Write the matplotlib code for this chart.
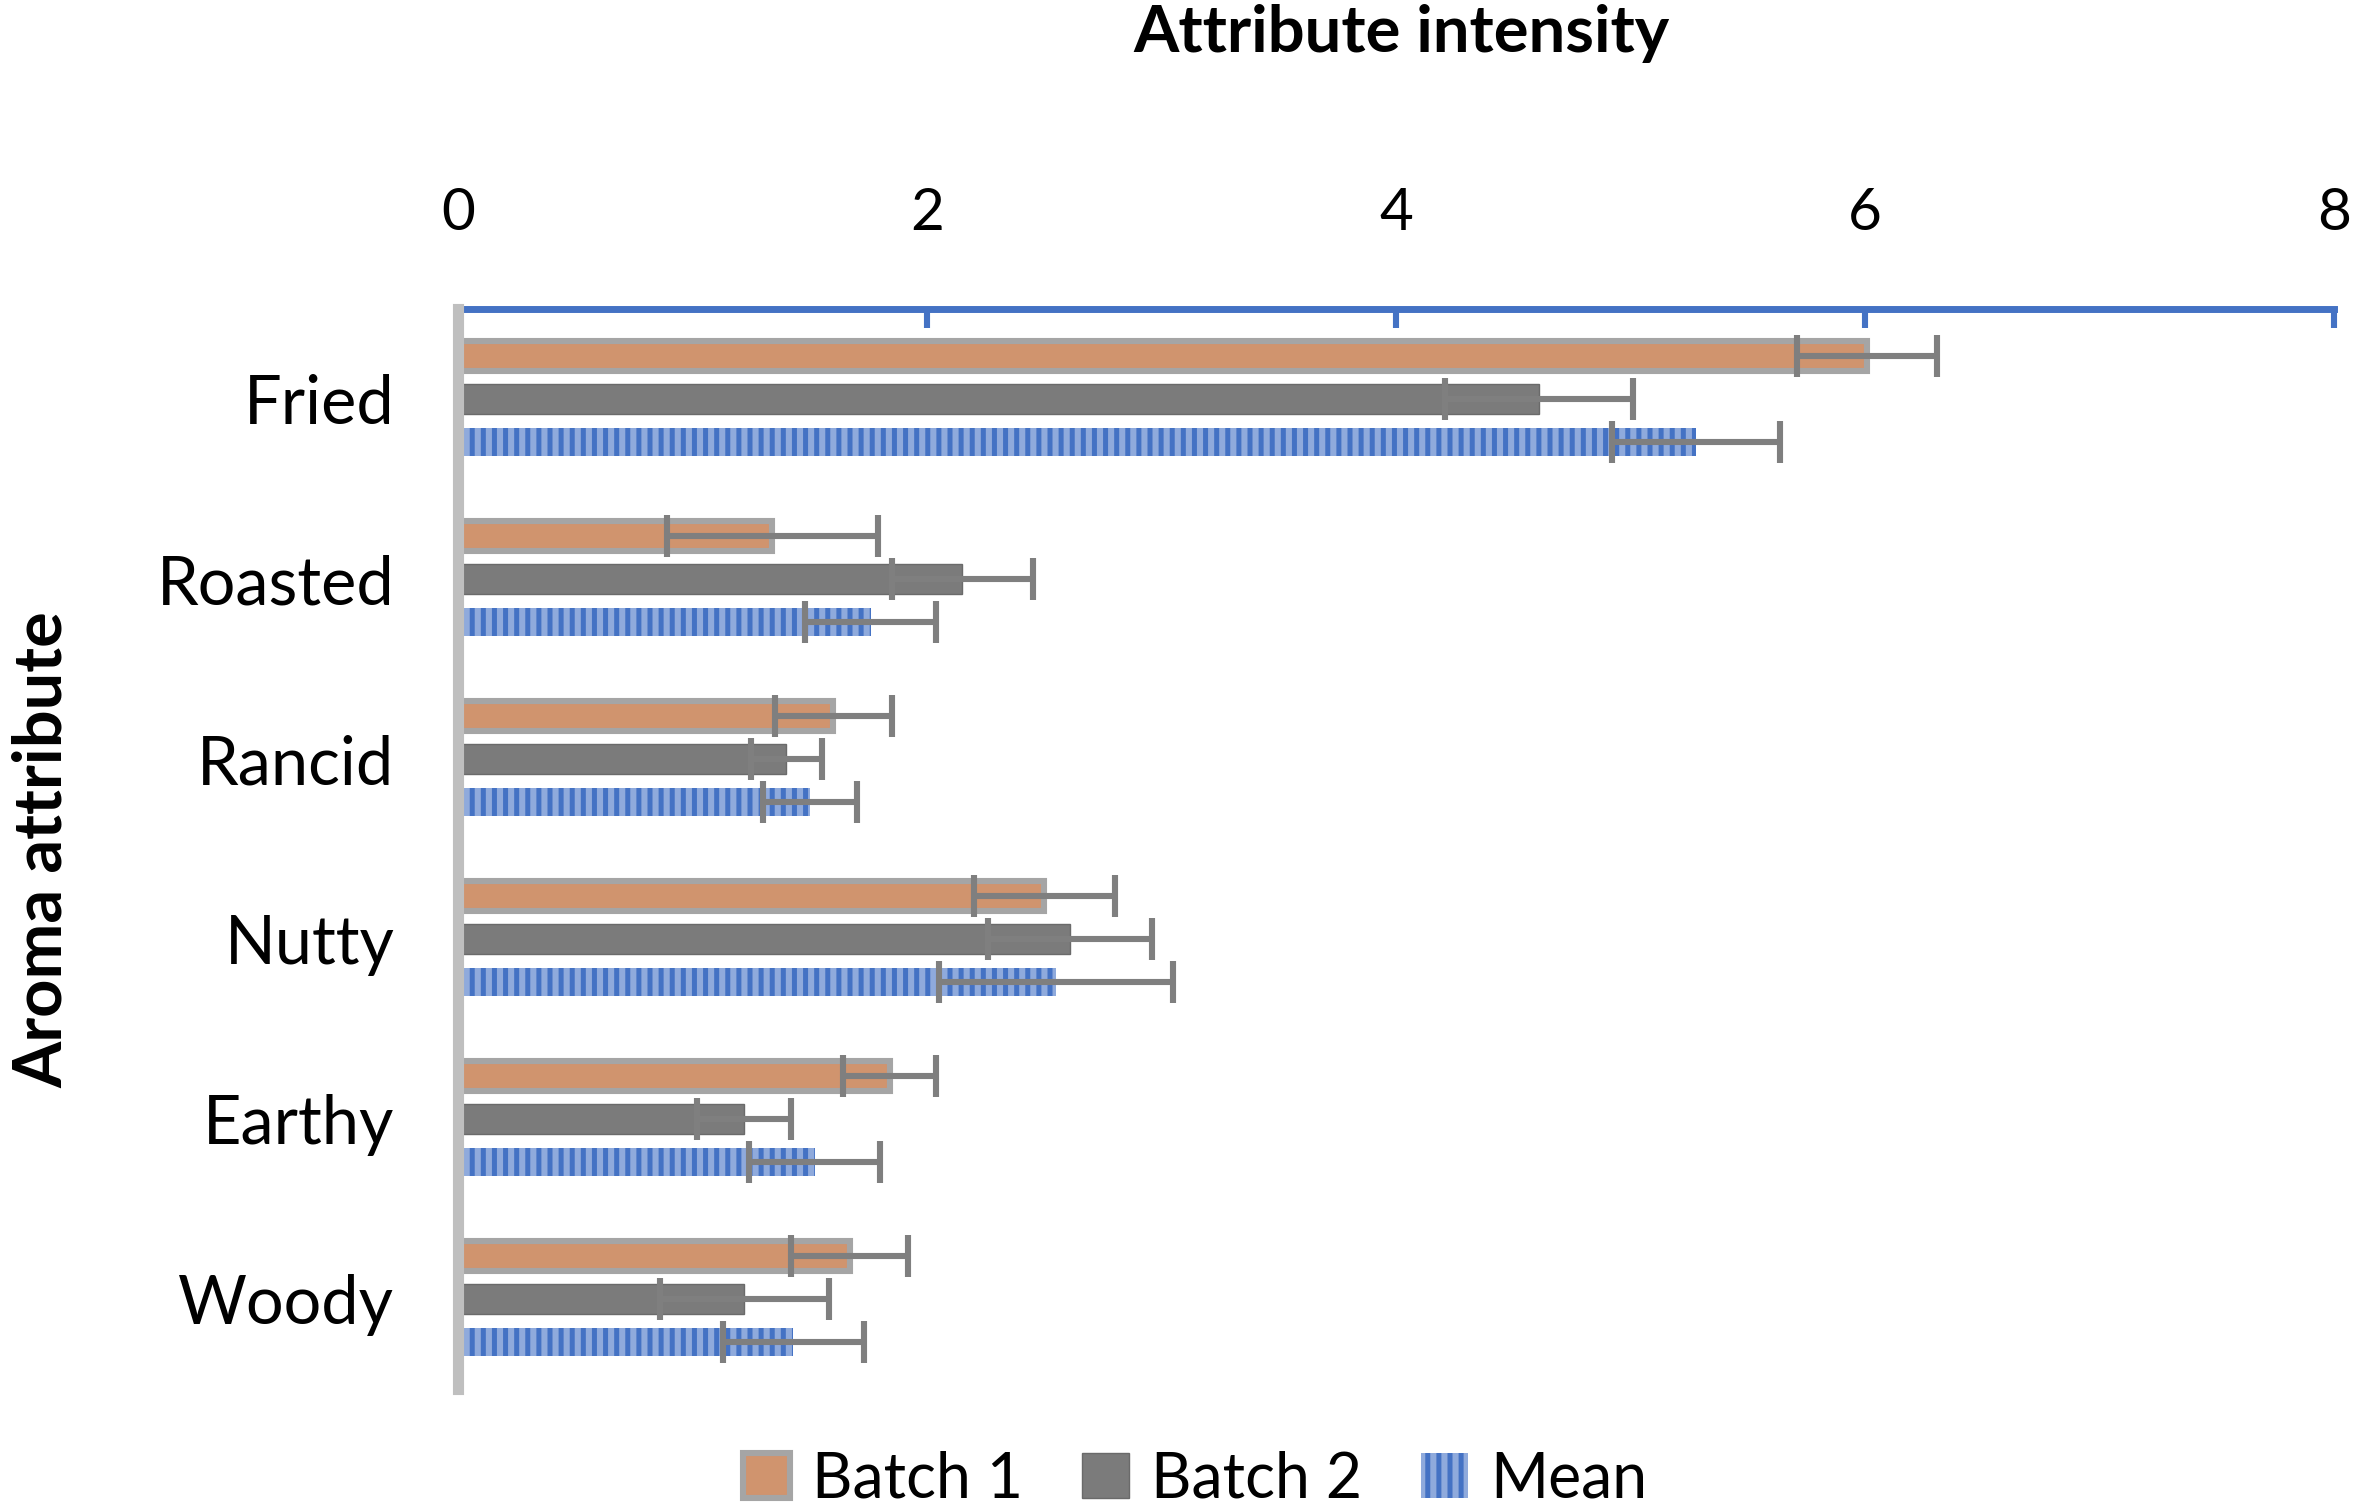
import numpy as np
import matplotlib
matplotlib.use('Agg')
import matplotlib.pyplot as plt

plt.rcParams['font.family'] = ['Lato', 'DejaVu Sans']
plt.rcParams['hatch.linewidth'] = 1.8

# data
categories = ['Fried', 'Roasted', 'Rancid', 'Nutty', 'Earthy', 'Woody']
batch1 = [6.01, 1.34, 1.60, 2.50, 1.84, 1.67]
batch1_err = [0.30, 0.45, 0.25, 0.30, 0.20, 0.25]
batch2 = [4.61, 2.15, 1.40, 2.61, 1.22, 1.22]
batch2_err = [0.40, 0.30, 0.15, 0.35, 0.20, 0.36]
mean = [5.28, 1.76, 1.50, 2.55, 1.52, 1.43]
mean_err = [0.36, 0.28, 0.20, 0.50, 0.28, 0.30]

fig = plt.figure(figsize=(11.81, 7.555), dpi=200)
ax = fig.add_axes([0.194, 0.0807, 0.794, 0.7148])

y = np.arange(len(categories))
off = 0.24
err_kw = dict(fmt='none', ecolor='#7F7F7F', elinewidth=2.2, capsize=7.5, capthick=2.2, zorder=5)

b1 = ax.barh(y - off, batch1, height=0.17, color='#D0946E', edgecolor='#A5A5A5', linewidth=2.2, label='Batch 1', zorder=3)
b2 = ax.barh(y, batch2, height=0.165, color='#7B7B7B', edgecolor='#6A6A6A', linewidth=0.5, label='Batch 2', zorder=3)
b3 = ax.barh(y + off, mean, height=0.155, color='#8FAADC', edgecolor='#4472C4', hatch='|||', linewidth=0, label='Mean', zorder=3)

ax.errorbar(batch1, y - off, xerr=batch1_err, **err_kw)
ax.errorbar(batch2, y, xerr=batch2_err, **err_kw)
ax.errorbar(mean, y + off, xerr=mean_err, **err_kw)

ax.set_xlim(0, 8)
ax.set_ylim(5.5, -0.5)
ax.set_xticks([0, 2, 4, 6, 8])
ax.xaxis.tick_top()
ax.xaxis.set_label_position('top')
ax.tick_params(axis='x', direction='in', length=7, width=2.2, color='#4472C4', labelsize=21, pad=25)
ax.set_yticks(y)
ax.set_yticklabels(categories)
ax.tick_params(axis='y', length=0, labelsize=24, pad=23)

for s in ['right', 'bottom']:
    ax.spines[s].set_visible(False)
ax.spines['top'].set_color('#4472C4')
ax.spines['top'].set_linewidth(2.5)
ax.spines['left'].set_color('#BFBFBF')
ax.spines['left'].set_linewidth(4)
ax.spines['left'].set_zorder(6)

fig.text(0.5935, 0.978, 'Attribute intensity', ha='center', va='center', fontsize=23.5, fontweight='bold')
fig.text(0.018, 0.438, 'Aroma attribute', ha='center', va='center', rotation=90, fontsize=24, fontweight='bold')

fig.legend(handles=[b1, b2, b3], labels=['Batch 1', 'Batch 2', 'Mean'], loc='center', bbox_to_anchor=(0.506, 0.021),
           ncol=3, frameon=False, fontsize=22.5, handlelength=0.75, handleheight=0.75, handletextpad=0.35, columnspacing=0.95)

fig.savefig('out.png', dpi=200)
